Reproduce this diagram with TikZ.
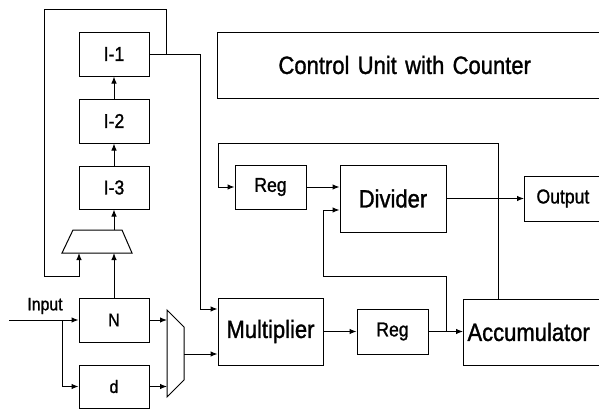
\documentclass[tikz,border=0pt]{standalone}
\usepackage{fontspec}
\setmainfont[FakeStretch=0.88,FakeBold=1.2]{Liberation Sans}
\usetikzlibrary{arrows.meta}
\begin{document}
\begin{tikzpicture}[x=1pt,y=-1pt,line width=1pt,
  blk/.style={draw,inner sep=0pt,anchor=center},
  wire/.style={-{Latex[length=7pt,width=5.5pt]}},
  big/.style={font=\fontsize{25}{28}\selectfont},
  mid/.style={font=\fontsize{20}{23}\selectfont},
  sml/.style={font=\fontsize{18}{21}\selectfont}]
\path[use as bounding box,clip] (0,0) rectangle (599,410);

% index registers and the input stage
\node[blk,mid,minimum width=70,minimum height=44] (i1) at (114,54) {I-1};
\node[blk,mid,minimum width=70,minimum height=44] (i2) at (114,121) {I-2};
\node[blk,mid,minimum width=70,minimum height=43] (i3) at (114,187.5) {I-3};
\node[blk,sml,minimum width=70,minimum height=44] (n) at (114,320) {N};
\node[blk,sml,minimum width=70,minimum height=43] (d) at (114,386.5) {d};
\node[sml] (inl) at (45,306) {Input};

% arithmetic units
\node[blk,big,minimum width=105,minimum height=67] (mult) at (270.5,331.5) {Multiplier};
\node[blk,mid,minimum width=71,minimum height=45] (reg2) at (392.5,331.5) {Reg};
\node[blk,mid,minimum width=71,minimum height=44] (reg1) at (270.5,187) {Reg};
\node[blk,big,minimum width=106,minimum height=67] (div) at (393,198.5) {Divider};
\node[draw,big,anchor=west,text width=140,inner xsep=4,inner ysep=0,minimum height=66,align=left] (acc) at (463,332) {Accumulator};
\node[draw,mid,anchor=west,text width=80,inner xsep=12,inner ysep=0,minimum height=45,align=left] (out) at (524,198.5) {Output};
\node[draw,big,anchor=west,text width=340,inner xsep=61,inner ysep=0,minimum height=66,align=left] (cu) at (217,65) {Control Unit with Counter};

% multiplexers
\draw (62,253) -- (73,230) -- (122,230) -- (132,253) -- cycle;
\coordinate (m1a) at (79,253);
\coordinate (m1b) at (114,253);
\coordinate (m1o) at (114,230);
\draw (167,310) -- (184,327) -- (184,380) -- (167,397) -- cycle;
\coordinate (m2a) at (167,320);
\coordinate (m2b) at (167,386.5);
\coordinate (m2o) at (184,354);

% connections
\draw[wire] (m1o) -- (i3.south);
\draw[wire] (i3) -- (i2);
\draw[wire] (i2) -- (i1);
\draw[wire] (n) -- (m1b);
\coordinate (inp) at (9,320);
\coordinate (br) at (62,320);
\draw[wire] (inp) -- (n.west);
\draw[wire] (br) |- (d.west);
\draw[wire] (n.east) -- (m2a);
\draw[wire] (d.east) -- (m2b);
\draw[wire] (m2o) -- (mult.west |- m2o);
\coordinate (j1) at (166,54);
\draw[wire] (i1.east) -- (200,54) -- (200,309) -- (mult.west |- 0,309);
\draw[wire] (j1) -- (166,9) -- (44,9) -- (44,276) -- (79,276) -- (m1a);
\coordinate (accT) at (acc.north west -| 498,0);
\draw[wire] (accT) -- (498,143) -- (218,143) |- (reg1.west);
\draw[wire] (reg1) -- (div.west |- reg1);
\draw[wire] (mult) -- (reg2);
\draw[wire] (reg2) -- (acc.west |- reg2);
\coordinate (t2) at (446,331.5);
\draw[wire] (t2) -- (446,276) -- (323,276) |- (div.west |- 0,210);
\draw[wire] (div.east |- out) -- (out.west);
\end{tikzpicture}
\end{document}
